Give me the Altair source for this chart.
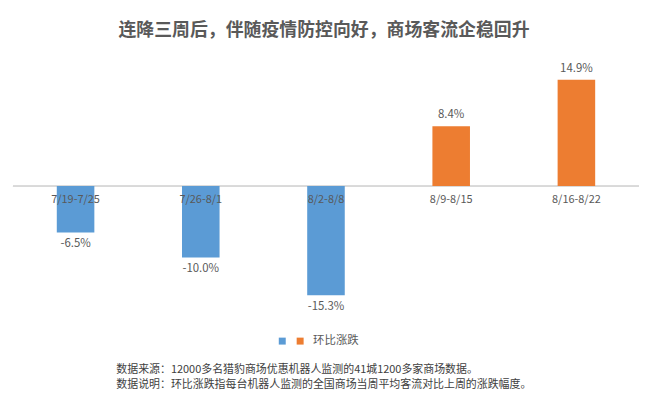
import altair as alt
import pandas as pd

categories = ["7/19-7/25", "7/26-8/1", "8/2-8/8", "8/9-8/15", "8/16-8/22"]
values = [-6.5, -10.0, -15.3, 8.4, 14.9]
labels = ["-6.5%", "-10.0%", "-15.3%", "8.4%", "14.9%"]
title_text = "连降三周后，伴随疫情防控向好，商场客流企稳回升"
legend_label = "环比涨跌"
notes = [
    "数据来源：12000多名猎豹商场优惠机器人监测的41城1200多家商场数据。",
    "数据说明：环比涨跌指每台机器人监测的全国商场当周平均客流对比上周的涨跌幅度。",
]

BLUE = "#5B9BD5"
ORANGE = "#ED7D31"
GRAY = "#595959"
FONT = "Noto Sans CJK SC"

df = pd.DataFrame({"cat": categories, "val": values, "lab": labels})
df["zero"] = 0.0

yscale = alt.Scale(domain=[-17.27, 17.55], nice=False)
x = alt.X("cat:N", sort=categories, axis=None,
          scale=alt.Scale(paddingInner=0.7, paddingOuter=0.35))
y = alt.Y("val:Q", axis=None, scale=yscale)

base = alt.Chart(df)

neg_bars = base.transform_filter("datum.val < 0").mark_bar(color=BLUE).encode(
    x=x, y=y, y2="zero:Q")
pos_bars = base.transform_filter("datum.val >= 0").mark_bar(color=ORANGE).encode(
    x=x, y=y, y2="zero:Q")

zero_line = base.mark_rule(color="#D9D9D9", strokeWidth=1).encode(
    y=alt.Y("zero:Q", axis=None, scale=yscale)
)

cat_text = base.mark_text(font=FONT, fontSize=11, color=GRAY, baseline="middle", dy=14).encode(
    x=x, y=alt.Y("zero:Q", axis=None, scale=yscale), text="cat:N"
)

pos_text = base.transform_filter("datum.val >= 0").mark_text(
    font=FONT, fontSize=11.5, color=GRAY, baseline="bottom", dy=-6
).encode(x=x, y=y, text="lab:N")

neg_text = base.transform_filter("datum.val < 0").mark_text(
    font=FONT, fontSize=11.5, color=GRAY, baseline="top", dy=6
).encode(x=x, y=y, text="lab:N")

one = base.transform_filter("datum.cat == '7/19-7/25'")

title = one.mark_text(
    font=FONT, fontSize=18, fontWeight="bold", color=GRAY, align="center", baseline="middle",
    text=title_text
).encode(x=alt.value(313), y=alt.value(-30))

sq_blue = one.mark_square(size=49, opacity=1, color=BLUE).encode(
    x=alt.value(271), y=alt.value(282))
sq_orange = one.mark_square(size=49, opacity=1, color=ORANGE).encode(
    x=alt.value(289), y=alt.value(282))

legend_txt = one.mark_text(
    font=FONT, fontSize=11.5, color=GRAY, align="left", baseline="middle", text=legend_label
).encode(x=alt.value(302), y=alt.value(282))

note1 = one.mark_text(
    font=FONT, fontSize=11, color="#404040", align="left", baseline="middle", text=notes[0]
).encode(x=alt.value(104), y=alt.value(311))
note2 = one.mark_text(
    font=FONT, fontSize=11, color="#404040", align="left", baseline="middle", text=notes[1]
).encode(x=alt.value(104), y=alt.value(326))

chart = alt.layer(
    zero_line, neg_bars, pos_bars, cat_text, pos_text, neg_text, title, sq_blue, sq_orange,
    legend_txt, note1, note2
).properties(
    width=630, height=250,
    padding={"left": 5, "top": 52, "right": 0, "bottom": 82},
    autosize=alt.AutoSizeParams(type="none"),
).configure_view(strokeWidth=0)

chart.save("out.html", embed_options={"renderer": "svg", "actions": False})
